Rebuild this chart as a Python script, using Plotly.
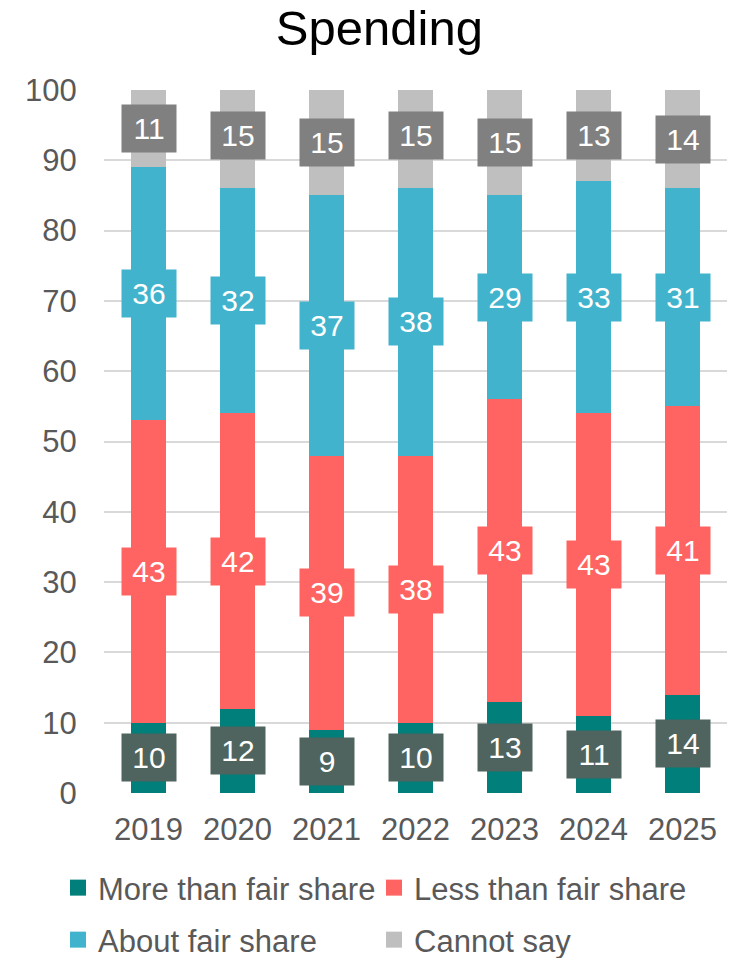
import plotly.graph_objects as go

years = ["2019", "2020", "2021", "2022", "2023", "2024", "2025"]
more_than = [10, 12, 9, 10, 13, 11, 14]
less_than = [43, 42, 39, 38, 43, 43, 41]
about_fair = [36, 32, 37, 38, 29, 33, 31]
cannot_say = [11, 15, 15, 15, 15, 13, 14]
y_ticks = [0, 10, 20, 30, 40, 50, 60, 70, 80, 90, 100]

series = [
    ("More than fair share", more_than, "#007F7B", "#4F645F", "legend"),
    ("Less than fair share", less_than, "#FF6462", "#FF6462", "legend"),
    ("About fair share", about_fair, "#42B3CC", "#42B3CC", "legend2"),
    ("Cannot say", cannot_say, "#BFBFBF", "#808080", "legend2"),
]

FONT = "Liberation Sans, Arial, sans-serif"
fig = go.Figure()
annotations = []
base = [0] * len(years)
for name, vals, color, boxcolor, leg in series:
    fig.add_trace(go.Bar(
        x=years, y=vals, name=name, marker=dict(color=color, line=dict(width=0)),
        showlegend=False,
    ))
    # legend entry with a larger square swatch
    fig.add_trace(go.Scatter(
        x=[None], y=[None], name=name, mode="markers",
        marker=dict(symbol="square", size=16, color=color),
        legend=leg, showlegend=True,
    ))
    for i, v in enumerate(vals):
        annotations.append(dict(
            x=i, y=base[i] + v / 2, xref="x", yref="y",
            text=str(v), showarrow=False, bgcolor=boxcolor,
            width=52, height=45, align="center", valign="middle",
            font=dict(family=FONT, size=30, color="white"),
        ))
        base[i] += v

legend_common = dict(orientation="h", xanchor="left", yanchor="middle",
                     entrywidth=271, entrywidthmode="pixels", traceorder="normal",
                     itemsizing="trace",
                     font=dict(family=FONT, size=31, color="#595959"),
                     bgcolor="rgba(0,0,0,0)")

fig.update_layout(
    barmode="stack",
    bargap=0.6,
    width=741, height=958,
    margin=dict(l=104, r=14, t=90, b=165, autoexpand=False),
    paper_bgcolor="white", plot_bgcolor="white",
    font=dict(family=FONT, size=31, color="#595959"),
    title=dict(text="Spending", x=0.512, xref="container", xanchor="center",
               y=0.9705, yref="container", yanchor="middle",
               font=dict(family=FONT, size=49, color="black")),
    annotations=annotations,
    showlegend=True,
    legend=dict(x=-0.0738, y=-0.1351, **legend_common),
    legend2=dict(x=-0.0738, y=-0.2091, **legend_common),
)
fig.update_yaxes(range=[0, 100], tickvals=y_ticks, showgrid=True, gridcolor="#D9D9D9",
                 gridwidth=1.5, zeroline=False, showline=False,
                 ticks="outside", ticklen=20, tickcolor="rgba(0,0,0,0)",
                 automargin=False, tickfont=dict(size=31, color="#595959"))
fig.update_xaxes(type="category", range=[-0.5, 6.5], showgrid=False, showline=False,
                 ticks="outside", ticklen=9, tickcolor="rgba(0,0,0,0)",
                 automargin=False, tickfont=dict(size=31, color="#595959"))

fig.write_html("out.html", config={"displayModeBar": False},
               post_script="document.body.style.margin='0';")
